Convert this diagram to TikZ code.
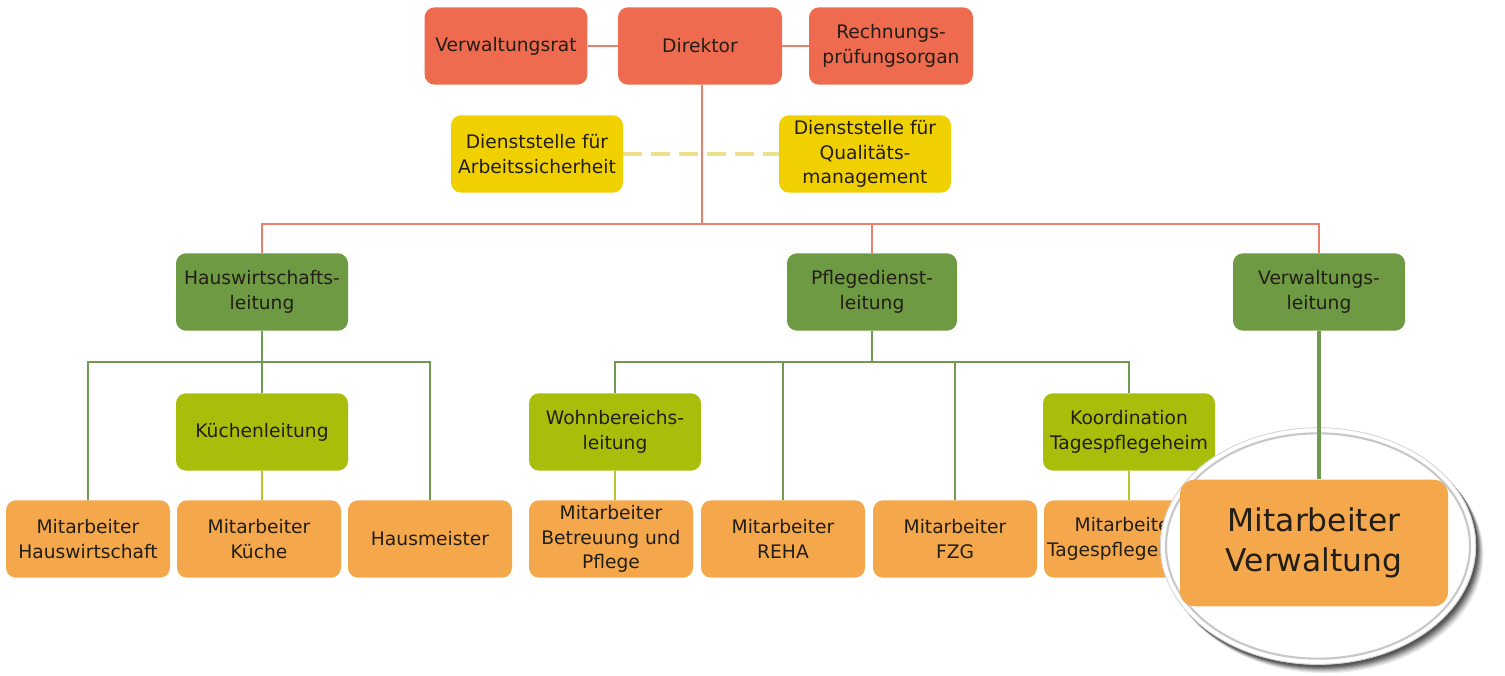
\documentclass[tikz,border=0pt]{standalone}
\usepackage{fontspec}
\setmainfont{DejaVu Sans}
\definecolor{cred}{HTML}{EE6B4F}
\definecolor{cyel}{HTML}{F1D000}
\definecolor{cdg}{HTML}{6D9A42}
\definecolor{clg}{HTML}{A9BE0B}
\definecolor{cor}{HTML}{F4A84B}
\definecolor{lred}{HTML}{E9806C}
\definecolor{lgreen}{HTML}{6F9A4F}
\definecolor{llg}{HTML}{B5C52A}
\definecolor{lyel}{HTML}{EDE08A}
\definecolor{txt}{HTML}{221E16}
\definecolor{ring}{HTML}{C8C8C8}
\tikzset{
  box/.style={rounded corners=7.5pt, minimum width=123pt, minimum height=58pt,
    inner sep=1pt, align=center, text=txt, font=\fontsize{14}{18.5}\selectfont},
  wide/.style={minimum width=129pt},
  redbox/.style={box, fill=cred},
  yelbox/.style={box, wide, fill=cyel},
  dgbox/.style={box, wide, fill=cdg},
  lgbox/.style={box, wide, fill=clg},
  orbox/.style={box, fill=cor},
  redline/.style={draw=lred, line width=2.2pt},
  grline/.style={draw=lgreen, line width=2.2pt},
  lgline/.style={draw=llg, line width=2.2pt},
  yeldash/.style={draw=lyel, line width=3pt, dash pattern=on 14pt off 7pt},
}
\begin{document}
\begin{tikzpicture}[x=0.75pt, y=-0.75pt]
\path[use as bounding box] (0,0) rectangle (1505,675);

% top
\node[redbox, minimum width=122pt] (vr) at (506,46) {Verwaltungsrat};
\node[redbox] (dir) at (700,46) {Direktor};
\node[redbox] (rp) at (891,46) {Rechnungs-\\prüfungsorgan};
\node[yelbox] (ds1) at (537,154) {Dienststelle für\\Arbeitssicherheit};
\node[yelbox] (ds2) at (865,154) {Dienststelle für\\Qualitäts-\\management};

% level 2
\node[dgbox] (hwl) at (262,292) {Hauswirtschafts-\\leitung};
\node[dgbox, minimum width=127.5pt] (pdl) at (872,292) {Pflegedienst-\\leitung};
\node[dgbox] (vwl) at (1319,292) {Verwaltungs-\\leitung};

% level 3
\node[lgbox] (kl) at (262,432) {Küchenleitung};
\node[lgbox] (wbl) at (615,432) {Wohnbereichs-\\leitung};
\node[lgbox] (kt) at (1129,432) {Koordination\\Tagespflegeheim};

% bottom
\node[orbox] (mhw) at (88,539) {Mitarbeiter\\Hauswirtschaft};
\node[orbox] (mk) at (259,539) {Mitarbeiter\\Küche};
\node[orbox] (hm) at (430,539) {Hausmeister};
\node[orbox] (mbp) at (611,539) {Mitarbeiter\\Betreuung und\\Pflege};
\node[orbox] (reha) at (783,539) {Mitarbeiter\\REHA};
\node[orbox] (fzg) at (955,539) {Mitarbeiter\\FZG};
\node[orbox] (mtp) at (1126,539) {Mitarbeiter\\Tagespflegeheim};

% connectors
\draw[redline] (vr) -- (dir);
\draw[redline] (dir) -- (rp);
\draw[yeldash] (ds1) -- (ds2);
\coordinate (rj) at (702,224);
\draw[redline] (dir.south -| rj) -- (rj);
\draw[redline] (hwl.north) |- (rj) -| (vwl.north);
\draw[redline] (rj) -| (pdl.north);

\coordinate (hj) at (262,362);
\draw[grline] (hwl) -- (hj);
\draw[grline] (mhw.north) |- (hj) -| (hm.north);
\draw[grline] (hj) -- (kl);
\draw[lgline] (kl.south) -- (kl.south |- mk.north);

\coordinate (pj) at (872,362);
\draw[grline] (pdl) -- (pj);
\draw[grline] (wbl.north) |- (pj) -| (kt.north);
\draw[grline] (reha.north) -- (reha.north |- pj);
\draw[grline] (fzg.north) -- (fzg.north |- pj);
\draw[lgline] (wbl.south) -- (wbl.south |- mbp.north);
\draw[lgline] (kt.south) -- (kt.south |- mtp.north);

% magnifier
\foreach \i/\o in {8/0.07,7/0.09,6/0.11,5/0.14,4/0.17,3/0.2,2/0.2} {
  \fill[black, opacity=\o] ([xshift=\i*0.7pt, yshift=-\i*0.8pt]1318,546) ellipse [x radius=118.5pt, y radius=89pt];
}
\fill[white] (1318,546) ellipse [x radius=118.5pt, y radius=89pt];
\draw[draw=gray!35, line width=0.6pt] (1318,546) ellipse [x radius=118.2pt, y radius=88.7pt];
\draw[draw=ring, line width=1.6pt] (1318,546) ellipse [x radius=114pt, y radius=84.5pt];

\node[box, fill=cor, minimum width=201pt, minimum height=95pt, rounded corners=11pt,
      font=\fontsize{23.5}{30}\selectfont] (mv) at (1314,543) {Mitarbeiter\\Verwaltung};
\draw[grline, line width=2.6pt] (vwl.south) -- (vwl.south |- mv.north);
\end{tikzpicture}
\end{document}
